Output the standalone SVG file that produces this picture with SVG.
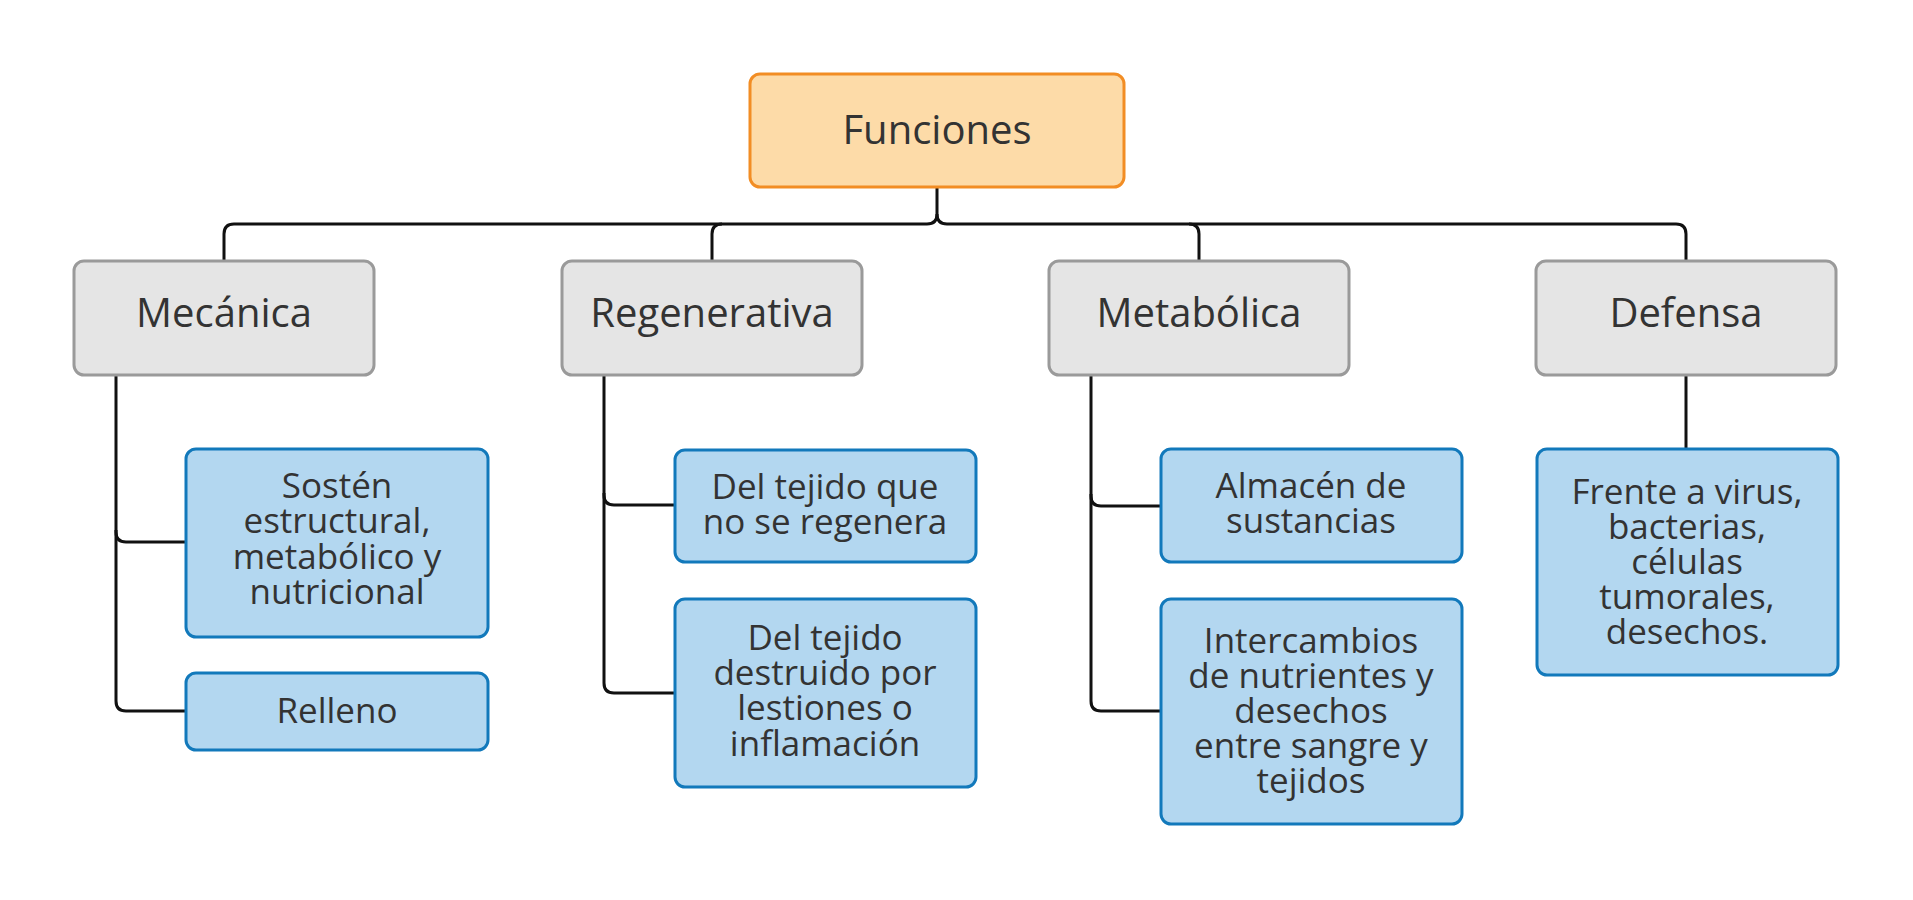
<svg xmlns="http://www.w3.org/2000/svg" width="1913" height="900" viewBox="0 0 1913 900">
<style>
text{font-family:"Open Sans","Noto Sans",sans-serif;fill:#333;text-anchor:middle}
.root rect{fill:#FDDBA8;stroke:#F28D24;stroke-width:3}
.l1 rect{fill:#E5E5E5;stroke:#9A9A9A;stroke-width:3}
.l2 rect{fill:#B3D7F0;stroke:#1279BB;stroke-width:3}
.big{font-size:40px}
.sm{font-size:35px}
#connectors path{fill:none;stroke:#111;stroke-width:3}
</style>
<rect width="1913" height="900" fill="#fff"/>
<g id="connectors">
<path d="M937,187 V214 Q937,224 927,224 H234 Q224,224 224,234 V261"/>
<path d="M937,214 Q937,224 947,224 H1676 Q1686,224 1686,234 V261"/>
<path d="M722,224 Q712,224 712,234 V261"/>
<path d="M1189,224 Q1199,224 1199,234 V261"/>
<path d="M116,375 V532 Q116,542 126,542 H186"/>
<path d="M116,530 V701 Q116,711 126,711 H186"/>
<path d="M604,375 V495 Q604,505 614,505 H675"/>
<path d="M604,493 V683 Q604,693 614,693 H675"/>
<path d="M1091,375 V496 Q1091,506 1101,506 H1161"/>
<path d="M1091,494 V701 Q1091,711 1101,711 H1161"/>
<path d="M1686,375 V449"/>
</g>
<g id="funciones" class="root"><rect x="750" y="74" width="374" height="113" rx="10"/><text class="big" x="937" y="144">Funciones</text></g>
<g id="mecanica" class="l1"><rect x="74" y="261" width="300" height="114" rx="10"/><text class="big" x="224" y="327">Mecánica</text></g>
<g id="regenerativa" class="l1"><rect x="562" y="261" width="300" height="114" rx="10"/><text class="big" x="712" y="327">Regenerativa</text></g>
<g id="metabolica" class="l1"><rect x="1049" y="261" width="300" height="114" rx="10"/><text class="big" x="1199" y="327">Metabólica</text></g>
<g id="defensa" class="l1"><rect x="1536" y="261" width="300" height="114" rx="10"/><text class="big" x="1686" y="327">Defensa</text></g>
<g id="sosten" class="l2"><rect x="186" y="449" width="302" height="188" rx="10"/><text class="sm" x="337"><tspan x="337" y="498">Sostén</tspan><tspan x="337" y="533">estructural,</tspan><tspan x="337" y="569">metabólico y</tspan><tspan x="337" y="604">nutricional</tspan></text></g>
<g id="relleno" class="l2"><rect x="186" y="673" width="302" height="77" rx="10"/><text class="sm" x="337" y="723">Relleno</text></g>
<g id="noregenera" class="l2"><rect x="675" y="450" width="301" height="112" rx="10"/><text class="sm" x="825"><tspan x="825" y="499">Del tejido que</tspan><tspan x="825" y="534">no se regenera</tspan></text></g>
<g id="destruido" class="l2"><rect x="675" y="599" width="301" height="188" rx="10"/><text class="sm" x="825"><tspan x="825" y="650">Del tejido</tspan><tspan x="825" y="685">destruido por</tspan><tspan x="825" y="720">lestiones o</tspan><tspan x="825" y="756">inflamación</tspan></text></g>
<g id="almacen" class="l2"><rect x="1161" y="449" width="301" height="113" rx="10"/><text class="sm" x="1311"><tspan x="1311" y="498">Almacén de</tspan><tspan x="1311" y="533">sustancias</tspan></text></g>
<g id="intercambios" class="l2"><rect x="1161" y="599" width="301" height="225" rx="10"/><text class="sm" x="1311"><tspan x="1311" y="653">Intercambios</tspan><tspan x="1311" y="688">de nutrientes y</tspan><tspan x="1311" y="723">desechos</tspan><tspan x="1311" y="758">entre sangre y</tspan><tspan x="1311" y="793">tejidos</tspan></text></g>
<g id="frente" class="l2"><rect x="1537" y="449" width="301" height="226" rx="10"/><text class="sm" x="1687"><tspan x="1687" y="504">Frente a virus,</tspan><tspan x="1687" y="539">bacterias,</tspan><tspan x="1687" y="574">células</tspan><tspan x="1687" y="609">tumorales,</tspan><tspan x="1687" y="644">desechos.</tspan></text></g>
</svg>
